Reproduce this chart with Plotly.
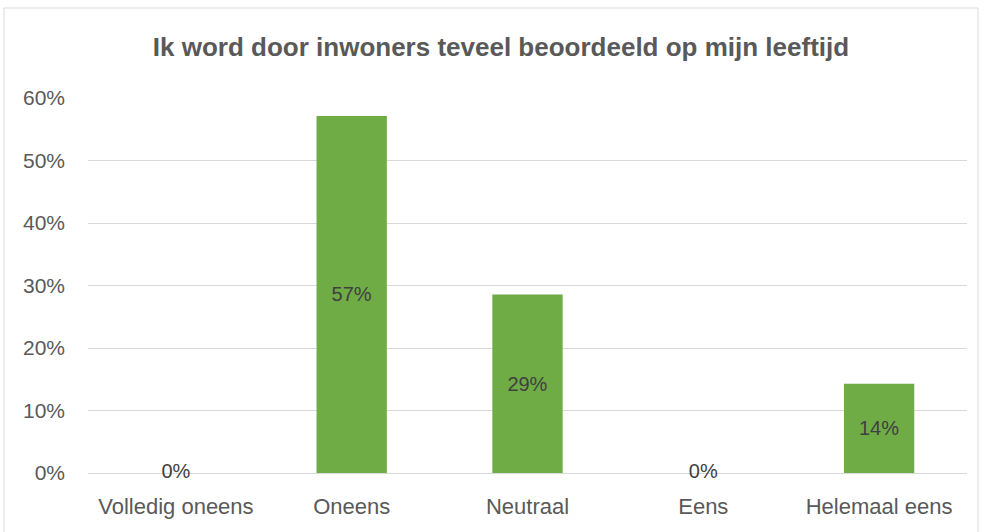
import plotly.graph_objects as go

categories = ["Volledig oneens", "Oneens", "Neutraal", "Eens", "Helemaal eens"]
values = [0.0, 0.5714, 0.2857, 0.0, 0.1429]
labels = ["0%", "57%", "29%", "0%", "14%"]
title_text = "Ik word door inwoners teveel beoordeeld op mijn leeftijd"
y_ticks = [0, 0.1, 0.2, 0.3, 0.4, 0.5, 0.6]
y_ticklabels = ["0%", "10%", "20%", "30%", "40%", "50%", "60%"]

W, H = 984, 532
L, R, T, B = 88, 17, 98, 59
FONT = "Liberation Sans"

nonzero_text = [t if v > 0 else "" for t, v in zip(labels, values)]
zero_x = [c for c, v in zip(categories, values) if v == 0]
zero_y = [v for v in values if v == 0]
zero_t = [t for t, v in zip(labels, values) if v == 0]

fig = go.Figure()
fig.add_trace(go.Bar(
    x=categories, y=values,
    marker=dict(color="#6FAC46", line=dict(width=0)),
    text=nonzero_text, textposition="inside", insidetextanchor="middle",
    textfont=dict(family=FONT, size=20, color="#404040"),
    hoverinfo="skip", cliponaxis=False,
))
fig.add_trace(go.Scatter(
    x=zero_x, y=zero_y, mode="text", text=zero_t,
    textposition="middle center",
    textfont=dict(family=FONT, size=20, color="#404040"),
    hoverinfo="skip", cliponaxis=False, showlegend=False,
))

pw = W - L - R
ph = H - T - B
fig.add_shape(
    type="rect", xref="paper", yref="paper",
    x0=(4 - L) / pw, x1=(978 - L) / pw,
    y0=-(540 - (H - B)) / ph, y1=1 + (T - 8) / ph,
    line=dict(color="#D9D9D9", width=1), fillcolor="rgba(0,0,0,0)", layer="below",
)

fig.update_layout(
    width=W, height=H,
    margin=dict(l=L, r=R, t=T, b=B),
    paper_bgcolor="white", plot_bgcolor="white",
    showlegend=False, bargap=0.6,
    title=dict(text="<b>" + title_text + "</b>", xref="container", yref="container",
               x=501 / W, xanchor="center", y=1 - 47 / H, yanchor="middle",
               font=dict(family=FONT, size=26, color="#595959")),
    font=dict(family=FONT, color="#595959"),
)
fig.update_yaxes(
    range=[0, 0.6], tickvals=y_ticks, ticktext=y_ticklabels,
    showgrid=True, gridcolor="#D9D9D9", gridwidth=1,
    zeroline=True, zerolinecolor="#D9D9D9", zerolinewidth=1,
    showline=False, ticks="", ticklabelstandoff=22,
    tickfont=dict(family=FONT, size=21, color="#595959"),
)
fig.update_xaxes(
    showgrid=False, showline=False, ticks="", ticklabelstandoff=18,
    tickfont=dict(family=FONT, size=22, color="#595959"),
)

fig.write_html("out.html", config={"displayModeBar": False},
               post_script="document.body.style.margin='0';")
